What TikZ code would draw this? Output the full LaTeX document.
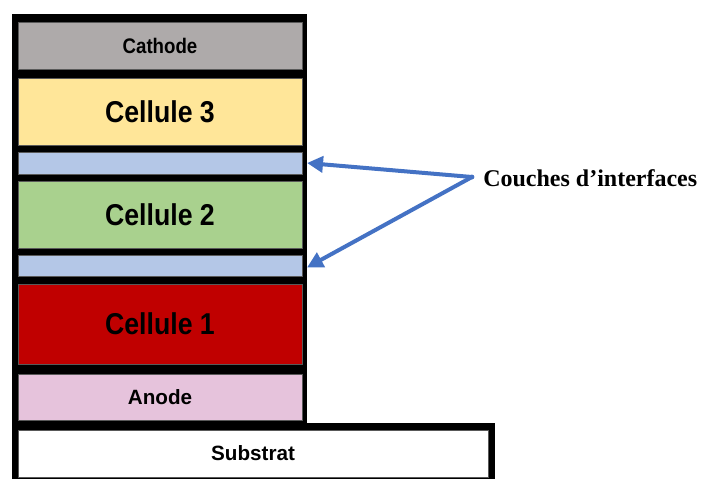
\documentclass[tikz,border=0pt]{standalone}
\usepackage{fontspec}
\setmainfont{Liberation Serif}
\setsansfont{Liberation Sans}
\usetikzlibrary{arrows.meta}
\definecolor{cathodec}{HTML}{AEAAAA}
\definecolor{cell3c}{HTML}{FFE699}
\definecolor{ifacec}{HTML}{B4C7E7}
\definecolor{cell2c}{HTML}{A9D18E}
\definecolor{cell1c}{HTML}{C00000}
\definecolor{anodec}{HTML}{E6C3DC}
\definecolor{arrowc}{HTML}{4472C4}
\definecolor{edgec}{HTML}{595959}
\newcommand{\tallbox}[1]{\scalebox{1}[1.13]{#1}}
\tikzset{
  blackbox/.style={fill=black, draw=none, inner sep=0pt, outer sep=0pt},
  layer/.style={draw=edgec, line width=0.4pt, inner sep=0pt, outer sep=0pt,
    minimum width=213pt, font=\sffamily\bfseries},
  bigtext/.style={font=\sffamily\bfseries\fontsize{20}{22}\selectfont},
  pointer/.style={draw=arrowc, line width=3pt,
    -{Triangle[length=12pt,width=12pt]}},
}
\begin{document}
\begin{tikzpicture}[x=0.75pt,y=-0.75pt]
\useasboundingbox (0,0) rectangle (702,478);
\clip (0,0) rectangle (702,478);
% black frames
\node[blackbox, minimum width=221.25pt, minimum height=312pt] (stack) at (159.5,222) {};
\node[blackbox, minimum width=362.25pt, minimum height=45.75pt] (subframe) at (253.5,453.5) {};
% layers
\node[layer, fill=cathodec, minimum height=35.25pt, font=\sffamily\bfseries\fontsize{14}{16}\selectfont] (cathode) at (160,45.5) {\tallbox{Cathode}};
\node[layer, fill=cell3c, minimum height=50.25pt, bigtext] (cell3) at (160,111.5) {\tallbox{Cellule 3}};
\node[layer, fill=ifacec, minimum height=16.5pt] (if1) at (160,163) {};
\node[layer, fill=cell2c, minimum height=50.25pt, bigtext] (cell2) at (160,214.5) {\tallbox{Cellule 2}};
\node[layer, fill=ifacec, minimum height=15.75pt] (if2) at (160,265.5) {};
\node[layer, fill=cell1c, minimum height=60pt, bigtext] (cell1) at (160,324) {\tallbox{Cellule 1}};
\node[layer, fill=anodec, minimum height=34.5pt, font=\sffamily\bfseries\fontsize{15.5}{17}\selectfont] (anode) at (160,397) {Anode};
\node[layer, fill=white, minimum width=352.5pt, minimum height=35.25pt, font=\sffamily\bfseries\fontsize{15.5}{17}\selectfont] (substrat) at (253,453.5) {Substrat};
% label and arrows
\node[anchor=west, inner sep=0pt, font=\rmfamily\bfseries\fontsize{18}{20}\selectfont] (label) at (483,178) {Couches d’interfaces};
\coordinate (src) at (472,177);
\fill[arrowc] (src) circle (1.8pt);
\draw[pointer] (src) -- (if1.east -| stack.east);
\draw[pointer] (src) -- ([yshift=-1.5pt]if2.east -| stack.east);
\end{tikzpicture}
\end{document}
